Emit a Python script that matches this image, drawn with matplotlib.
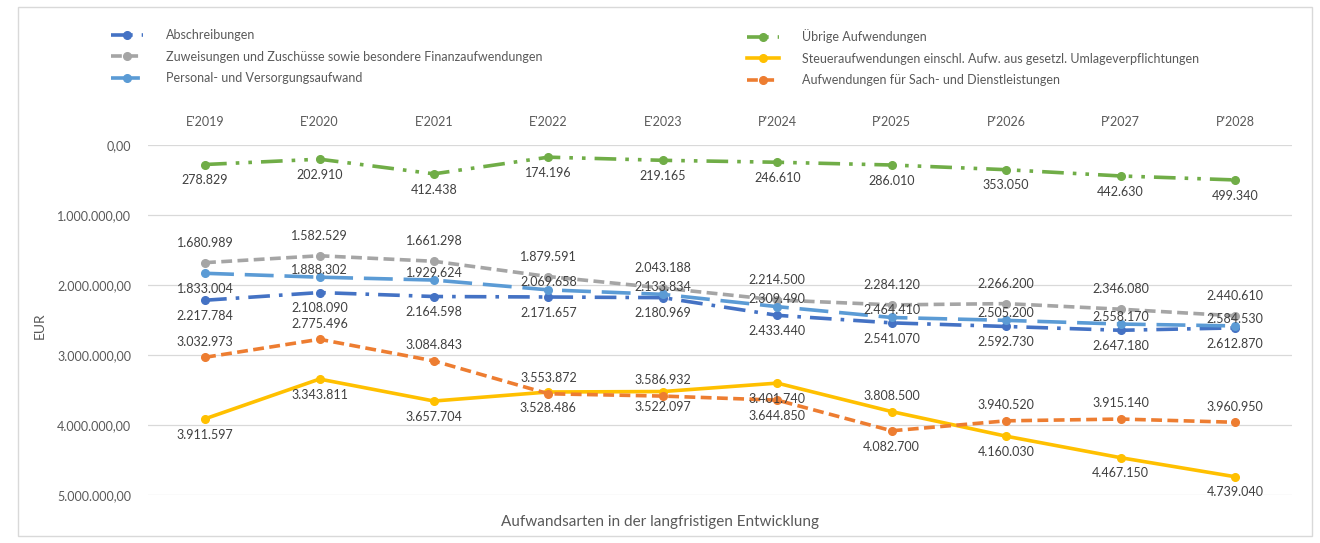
import matplotlib.pyplot as plt
from matplotlib.patches import Rectangle
from matplotlib.ticker import FuncFormatter

plt.rcParams['font.family'] = ['Lato', 'DejaVu Sans']

# ---- data ----
years = ["E'2019", "E'2020", "E'2021", "E'2022", "E'2023",
         "P'2024", "P'2025", "P'2026", "P'2027", "P'2028"]

abschreibungen = [2217784, 2108090, 2164598, 2171657, 2180969,
                  2433440, 2541070, 2592730, 2647180, 2612870]
zuweisungen = [1680989, 1582529, 1661298, 1879591, 2043188,
               2214500, 2284120, 2266200, 2346080, 2440610]
personal = [1833004, 1888302, 1929624, 2069658, 2133834,
            2309490, 2464410, 2505200, 2558170, 2584530]
uebrige = [278829, 202910, 412438, 174196, 219165,
           246610, 286010, 353050, 442630, 499340]
steuer = [3911597, 3343811, 3657704, 3528486, 3522097,
          3401740, 3808500, 4160030, 4467150, 4739040]
sach = [3032973, 2775496, 3084843, 3553872, 3586932,
        3644850, 4082700, 3940520, 3915140, 3960950]

# ---- styles: name, values, colour, dash, label side (u/d), label gap in pt ----
series = [
    ("Abschreibungen", abschreibungen, "#4472C4", (0, (6, 2.5, 1, 2.5)), "d" * 10, 7),
    ("Zuweisungen und Zuschüsse sowie besondere Finanzaufwendungen", zuweisungen,
     "#A5A5A5", (0, (3, 1.5)), "u" * 10, 10),
    ("Personal- und Versorgungsaufwand", personal, "#5B9BD5", (0, (8, 3)),
     "duuuuuuuuu", 1),
    ("Übrige Aufwendungen", uebrige, "#70AD47", (0, (6, 2.5, 1, 2.5, 1, 2.5)), "d" * 10, 7),
    ("Steueraufwendungen einschl. Aufw. aus gesetzl. Umlageverpflichtungen", steuer,
     "#FFC000", "-", "dddddduddd", 7),
    ("Aufwendungen für Sach- und Dienstleistungen", sach, "#ED7D31", (0, (3, 1.5)),
     "uuuuudduuu", 7),
]


def de_int(v):
    return f"{v:,.0f}".replace(",", ".")


def de_axis(v, _pos):
    s = f"{v:,.2f}"
    return s.replace(",", "X").replace(".", ",").replace("X", ".")


fig = plt.figure(figsize=(13.2, 5.43), dpi=100)
ax = fig.add_axes([0.112, 0.0884, 0.867, 0.6446])

x = list(range(len(years)))
handles = []
for name, vals, col, ls, dirs, gap in series:
    ln, = ax.plot(x, vals, color=col, linestyle=ls, linewidth=2.6,
                  marker="o", markersize=5.5, label=name, zorder=3)
    handles.append(ln)
    for xi, v, d in zip(x, vals, dirs):
        if d == "u":
            off, va = gap, "bottom"
        else:
            off, va = -max(gap, 7), "top"
        ax.annotate(de_int(v), (xi, v), xytext=(0, off), textcoords="offset points",
                    ha="center", va=va, fontsize=9, color="#404040", zorder=4)

ax.set_xlim(-0.5, len(years) - 0.5)
ax.set_ylim(5000000, 0)
ax.set_yticks([0, 1000000, 2000000, 3000000, 4000000, 5000000])
ax.yaxis.set_major_formatter(FuncFormatter(de_axis))
ax.set_xticks(x)
ax.set_xticklabels(years)
ax.xaxis.tick_top()
ax.tick_params(axis="both", length=0, labelsize=9, labelcolor="#595959")
ax.tick_params(axis="x", pad=12)
ax.tick_params(axis="y", pad=12)
ax.grid(axis="y", color="#D9D9D9", linewidth=0.9)
ax.set_axisbelow(True)
for sp in ax.spines.values():
    sp.set_visible(False)

fig.text(0.03, 0.40, "EUR", rotation=90, fontsize=10, color="#595959",
         ha="center", va="center")
fig.text(0.5, 0.038, "Aufwandsarten in der langfristigen Entwicklung",
         fontsize=11, color="#595959", ha="center", va="center")

leg_kw = dict(frameon=False, fontsize=9, labelcolor="#595959", handlelength=2.6,
              handletextpad=1.8, labelspacing=0.75, borderaxespad=0)
fig.legend(handles=handles[:3], loc="upper left",
           bbox_to_anchor=(0.08, 0.955), **leg_kw)
fig.legend(handles=handles[3:], loc="upper left",
           bbox_to_anchor=(0.562, 0.955), **leg_kw)

fig.patches.append(Rectangle((0.014, 0.012), 0.98, 0.975, transform=fig.transFigure,
                             fill=False, edgecolor="#D9D9D9", linewidth=1))

fig.savefig("out.png", dpi=100, facecolor="white")
